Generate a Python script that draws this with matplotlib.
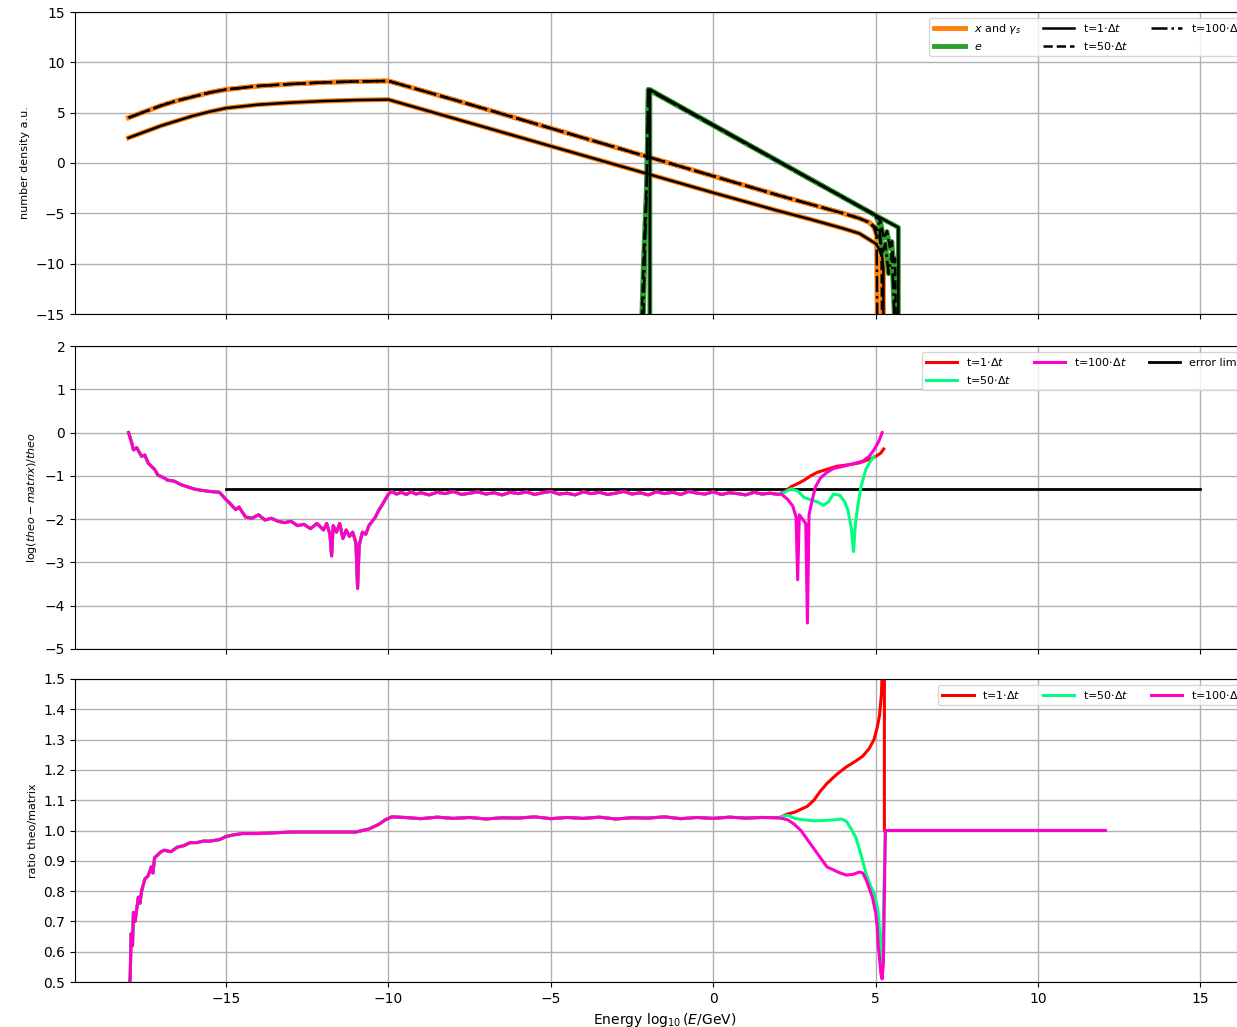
import numpy as np
import matplotlib
matplotlib.use('Agg')
import matplotlib.pyplot as plt

# spectra: x and gamma (lower = t=1, upper = t=50/100)
x_xg_t1 = [-18, -17.5, -17, -16.5, -16, -15.5, -15, -14, -13, -12, -11, -10,
           -8, -6, -4, -2, 0, 2, 3, 4, 4.5, 4.8, 5.0, 5.1, 5.2, 5.24, 5.24]
y_xg_t1 = [2.5, 3.1, 3.7, 4.2, 4.7, 5.1, 5.45, 5.8, 6.0, 6.15, 6.25, 6.3,
           4.45, 2.6, 0.75, -1.1, -2.95, -4.75, -5.6, -6.5, -7.0, -7.6, -8.0, -8.5, -9.3, -10.5, -15.5]
x_xg_t50 = [-18, -17.5, -17, -16.5, -16, -15.5, -15, -14, -13, -12, -11, -10,
            -8, -6, -4, -2, 0, 2, 3, 4, 4.5, 4.8, 5.0, 5.1, 5.18, 5.2]
y_xg_t50 = [4.5, 5.1, 5.7, 6.2, 6.6, 7.0, 7.3, 7.65, 7.85, 8.0, 8.1, 8.15,
            6.3, 4.4, 2.5, 0.6, -1.3, -3.2, -4.1, -5.0, -5.5, -5.9, -6.4, -7.0, -8.5, -15.5]
x_xg_t100 = [-18, -17.5, -17, -16.5, -16, -15.5, -15, -14, -13, -12, -11, -10,
             -8, -6, -4, -2, 0, 2, 3, 4, 4.5, 4.8, 4.95, 5.03, 5.05]
y_xg_t100 = [4.5, 5.1, 5.7, 6.2, 6.6, 7.0, 7.3, 7.65, 7.85, 8.0, 8.1, 8.15,
             6.3, 4.4, 2.5, 0.6, -1.3, -3.2, -4.1, -5.0, -5.5, -5.9, -6.4, -7.2, -15.5]

# spectra: electrons
x_e_t1 = [-1.95, -1.95, 5.0, 5.7, 5.7]
y_e_t1 = [-15.5, 7.3, -5.2, -6.4, -15.5]
x_e_t50 = [-2.2, -2.15, -2.1, -2.05, -2.02, -2.0, 5.0, 5.15, 5.25, 5.35, 5.45, 5.5, 5.55, 5.6, 5.62]
y_e_t50 = [-15.5, -10, -6, -2, 3, 7.3, -5.2, -5.8, -7.5, -6.8, -8.5, -7.8, -10, -9.5, -15.5]
x_e_t100 = [-2.15, -2.1, -2.05, -2.0, 5.0, 5.1, 5.2, 5.3, 5.4, 5.5, 5.58]
y_e_t100 = [-15.5, -8, -3, 7.3, -5.2, -6.0, -9.0, -8.0, -11, -9, -15.5]

# relative error, shared part for all times
x_err = [-18.0, -17.9, -17.85, -17.75, -17.6, -17.5, -17.4, -17.2, -17.1, -16.9, -16.8, -16.6,
         -16.4, -16.2, -16.0, -15.8, -15.5, -15.2, -15.0, -14.9, -14.7, -14.6, -14.4, -14.2,
         -14.0, -13.8, -13.6, -13.4, -13.2, -13.0, -12.8, -12.6, -12.4, -12.2, -12.0, -11.9,
         -11.8, -11.75, -11.7, -11.6, -11.5, -11.4, -11.3, -11.2, -11.1, -11.0, -10.95, -10.9,
         -10.8, -10.7, -10.6, -10.5, -10.4, -10.3, -10.2, -10.1, -10.0, -9.9, -9.75, -9.6,
         -9.45, -9.3, -9.15, -9.0, -8.75, -8.5, -8.25, -8.0, -7.75, -7.5, -7.25, -7.0, -6.75,
         -6.5, -6.25, -6.0, -5.75, -5.5, -5.25, -5.0, -4.75, -4.5, -4.25, -4.0, -3.75, -3.5,
         -3.25, -3.0, -2.75, -2.5, -2.25, -2.0, -1.75, -1.5, -1.25, -1.0, -0.75, -0.5, -0.25,
         0.0, 0.25, 0.5, 0.75, 1.0, 1.25, 1.5, 1.75, 2.0]
y_err = [0.0, -0.25, -0.40, -0.35, -0.55, -0.52, -0.70, -0.85, -0.98, -1.05, -1.10, -1.12,
         -1.20, -1.25, -1.30, -1.33, -1.36, -1.38, -1.55, -1.62, -1.78, -1.72, -1.95, -1.98,
         -1.90, -2.02, -1.98, -2.05, -2.08, -2.05, -2.15, -2.12, -2.22, -2.10, -2.25, -2.10,
         -2.35, -2.85, -2.15, -2.30, -2.10, -2.45, -2.25, -2.40, -2.30, -2.55, -3.60, -2.60,
         -2.30, -2.35, -2.15, -2.05, -1.95, -1.80, -1.68, -1.55, -1.42, -1.36, -1.42, -1.38,
         -1.43, -1.37, -1.42, -1.39, -1.44, -1.38, -1.41, -1.36, -1.43, -1.40, -1.37, -1.42,
         -1.39, -1.44, -1.38, -1.41, -1.37, -1.43, -1.39, -1.36, -1.42, -1.40, -1.44, -1.37,
         -1.41, -1.38, -1.43, -1.40, -1.36, -1.42, -1.39, -1.44, -1.37, -1.41, -1.38, -1.43,
         -1.36, -1.40, -1.42, -1.37, -1.43, -1.39, -1.41, -1.44, -1.38, -1.42, -1.40, -1.43]
x_err_t1 = [2.2, 2.4, 2.6, 2.8, 3.0, 3.2, 3.5, 3.8, 4.2, 4.5, 4.8, 5.0, 5.15, 5.25]
y_err_t1 = [-1.36, -1.25, -1.18, -1.10, -1.00, -0.92, -0.85, -0.78, -0.74, -0.70, -0.62, -0.55, -0.48, -0.38]
x_err_t50 = [2.2, 2.4, 2.6, 2.8, 3.0, 3.2, 3.4, 3.55, 3.7, 3.9, 4.05, 4.15, 4.25, 4.32,
             4.38, 4.45, 4.55, 4.7, 4.85, 4.95]
y_err_t50 = [-1.38, -1.30, -1.35, -1.50, -1.55, -1.60, -1.68, -1.60, -1.42, -1.45, -1.60, -1.80,
             -2.20, -2.75, -2.10, -1.70, -1.25, -0.85, -0.65, -0.55]
x_err_t100 = [2.1, 2.3, 2.45, 2.55, 2.6, 2.65, 2.75, 2.85, 2.9, 2.95, 3.05, 3.15, 3.3, 3.5,
              3.7, 4.0, 4.3, 4.6, 4.8, 4.95, 5.1, 5.2]
y_err_t100 = [-1.42, -1.55, -1.70, -1.95, -3.40, -1.90, -2.00, -2.10, -4.40, -1.90, -1.55, -1.25,
              -1.05, -0.92, -0.83, -0.78, -0.72, -0.66, -0.55, -0.40, -0.20, 0.0]
x_lim_line = [-15, 15]
err_limit = np.log10(0.05)

# ratio theo/matrix, shared part
x_rat = [-18.0, -17.95, -17.92, -17.88, -17.85, -17.8, -17.75, -17.7, -17.65, -17.6, -17.5,
         -17.4, -17.3, -17.25, -17.2, -17.1, -17.0, -16.9, -16.7, -16.5, -16.3, -16.1, -15.9,
         -15.7, -15.5, -15.2, -15.0, -14.8, -14.5, -14.0, -13.0, -12.0, -11.0, -10.6, -10.3,
         -10.1, -9.9, -9.5, -9.0, -8.5, -8.0, -7.5, -7.0, -6.5, -6.0, -5.5, -5.0, -4.5, -4.0,
         -3.5, -3.0, -2.5, -2.0, -1.5, -1.0, -0.5, 0.0, 0.5, 1.0, 1.5, 2.0]
y_rat = [0.42, 0.52, 0.66, 0.62, 0.73, 0.70, 0.74, 0.78, 0.76, 0.80, 0.84,
         0.85, 0.88, 0.86, 0.91, 0.92, 0.93, 0.935, 0.93, 0.945, 0.95, 0.96, 0.96,
         0.965, 0.965, 0.97, 0.98, 0.985, 0.99, 0.99, 0.995, 0.995, 0.995, 1.005, 1.02,
         1.035, 1.045, 1.043, 1.039, 1.044, 1.040, 1.043, 1.038, 1.042, 1.041, 1.045, 1.039,
         1.043, 1.040, 1.044, 1.038, 1.042, 1.041, 1.045, 1.039, 1.043, 1.040, 1.044, 1.041,
         1.043, 1.042]
x_rat_t1 = [2.1, 2.3, 2.5, 2.7, 2.9, 3.1, 3.3, 3.5, 3.8, 4.1, 4.4, 4.6, 4.8, 4.95, 5.05,
            5.12, 5.18, 5.22, 5.27, 5.27, 12.07]
y_rat_t1 = [1.045, 1.055, 1.06, 1.07, 1.08, 1.10, 1.13, 1.155, 1.185, 1.21, 1.23, 1.245, 1.27,
            1.30, 1.34, 1.38, 1.45, 1.6, 1.6, 1.0, 1.0]
x_rat_t50 = [2.1, 2.3, 2.5, 2.8, 3.1, 3.4, 3.7, 3.95, 4.1, 4.25, 4.4, 4.55, 4.7, 4.85, 4.95,
             5.05, 5.1, 5.2, 5.3, 12.07]
y_rat_t50 = [1.045, 1.05, 1.04, 1.035, 1.032, 1.033, 1.035, 1.038, 1.03, 1.005, 0.975, 0.92,
             0.86, 0.815, 0.795, 0.75, 0.70, 0.55, 1.0, 1.0]
x_rat_t100 = [2.1, 2.3, 2.5, 2.7, 2.9, 3.1, 3.3, 3.5, 3.7, 3.9, 4.1, 4.3, 4.5, 4.6, 4.7, 4.8,
              4.9, 5.0, 5.05, 5.08, 5.12, 5.16, 5.2, 5.24, 5.3, 12.07]
y_rat_t100 = [1.04, 1.035, 1.02, 1.0, 0.97, 0.94, 0.91, 0.88, 0.87, 0.86, 0.853, 0.855, 0.863,
              0.86, 0.84, 0.81, 0.78, 0.73, 0.68, 0.62, 0.58, 0.53, 0.51, 0.56, 1.0, 1.0]

c_red = '#ff0000'
c_green = '#00ff80'
c_mag = '#ff00cc'
c_or = '#ff7f0e'
c_e = '#2ca02c'

fig = plt.figure(figsize=(12.37, 10.27), dpi=100)
W = (1254 - 75) / 1237
ax1 = fig.add_axes([75 / 1237, 1 - 314 / 1027, W, 302 / 1027])
ax2 = fig.add_axes([75 / 1237, 1 - 649 / 1027, W, 303 / 1027], sharex=ax1)
ax3 = fig.add_axes([75 / 1237, 1 - 982 / 1027, W, 303 / 1027], sharex=ax1)

leg_kw = dict(loc='upper right', ncol=3, fontsize=8, handlelength=2.8)

# top: number density
ax1.plot(x_xg_t1, y_xg_t1, color=c_or, lw=3.5, label=r'$x$ and $\gamma_s$')
ax1.plot(x_xg_t50, y_xg_t50, color=c_or, lw=3.5)
ax1.plot(x_xg_t100, y_xg_t100, color=c_or, lw=3.5)
ax1.plot(x_e_t1, y_e_t1, color=c_e, lw=3.5, label=r'$e$')
ax1.plot(x_e_t50, y_e_t50, color=c_e, lw=3.5)
ax1.plot(x_e_t100, y_e_t100, color=c_e, lw=3.5)
ax1.plot(x_xg_t1, y_xg_t1, color='k', lw=1.8, ls='-', label=r't=1$\cdot\Delta t$')
ax1.plot(x_xg_t50, y_xg_t50, color='k', lw=1.8, ls='--', label=r't=50$\cdot\Delta t$')
ax1.plot(x_xg_t100, y_xg_t100, color='k', lw=1.8, ls='-.', label=r't=100$\cdot\Delta t$')
ax1.plot(x_e_t1, y_e_t1, color='k', lw=1.8, ls='-')
ax1.plot(x_e_t50, y_e_t50, color='k', lw=1.8, ls='--')
ax1.plot(x_e_t100, y_e_t100, color='k', lw=1.8, ls='-.')
ax1.set_ylim(-15, 15)
ax1.set_ylabel('number density a.u.', fontsize=8)
ax1.legend(**leg_kw)

# middle: relative error
ax2.plot(x_err + x_err_t1, y_err + y_err_t1, color=c_red, lw=2.2, label=r't=1$\cdot\Delta t$')
ax2.plot(x_err + x_err_t50, y_err + y_err_t50, color=c_green, lw=2.2, label=r't=50$\cdot\Delta t$')
ax2.plot(x_err + x_err_t100, y_err + y_err_t100, color=c_mag, lw=2.2, label=r't=100$\cdot\Delta t$')
ax2.plot(x_lim_line, [err_limit, err_limit], color='k', lw=2, label='error limit', zorder=1.9)
ax2.set_ylim(-5, 2)
ax2.set_ylabel(r'$\log(theo-matrix)/theo$', fontsize=8)
ax2.legend(**leg_kw)

# bottom: ratio
ax3.plot(x_rat + x_rat_t1, y_rat + y_rat_t1, color=c_red, lw=2.2, label=r't=1$\cdot\Delta t$')
ax3.plot(x_rat + x_rat_t50, y_rat + y_rat_t50, color=c_green, lw=2.2, label=r't=50$\cdot\Delta t$')
ax3.plot(x_rat + x_rat_t100, y_rat + y_rat_t100, color=c_mag, lw=2.2, label=r't=100$\cdot\Delta t$')
ax3.set_ylim(0.5, 1.5)
ax3.set_yticks(np.arange(0.5, 1.51, 0.1))
ax3.set_ylabel('ratio theo/matrix', fontsize=8)
ax3.set_xlabel(r'Energy $\log_{10}(E/\mathrm{GeV})$', fontsize=10)
ax3.legend(**leg_kw)

ax1.set_xlim(-19.65, 16.65)
for ax in (ax1, ax2, ax3):
    ax.grid(True, color='#b0b0b0', lw=1)
    ax.tick_params(labelsize=10)
ax1.tick_params(labelbottom=False)
ax2.tick_params(labelbottom=False)

fig.savefig('out.png', dpi=100)
